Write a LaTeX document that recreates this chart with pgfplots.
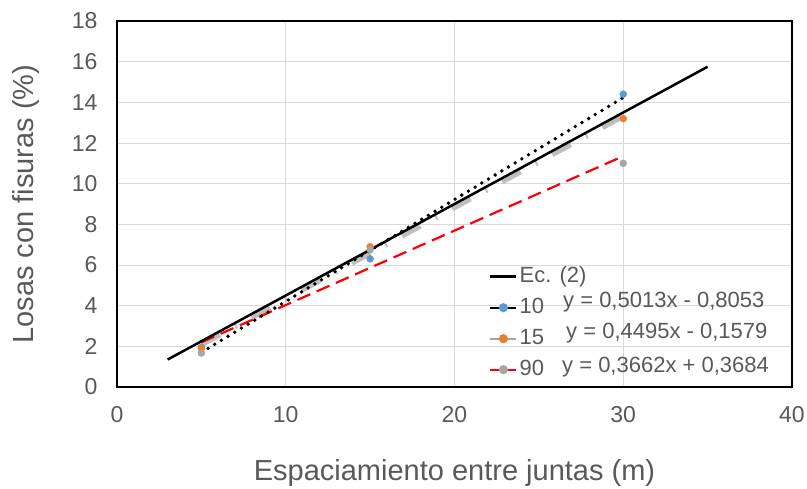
\documentclass[border=0pt]{standalone}
\usepackage{fontspec}
\setmainfont{Liberation Sans}
\usepackage{pgfplots}
\pgfplotsset{compat=1.18}
\definecolor{txt}{HTML}{595959}
\definecolor{gridc}{HTML}{D9D9D9}
\definecolor{cten}{HTML}{5B9BD5}
\definecolor{cfif}{HTML}{ED7D31}
\definecolor{cnin}{HTML}{A5A5A5}
\definecolor{ctrg}{HTML}{BFBFBF}
\begin{document}
\begin{tikzpicture}
\begin{axis}[name=ax,
  scale only axis, width=675pt, height=366pt,
  xmin=0, xmax=40, ymin=0, ymax=18,
  xtick={0,10,20,30,40}, ytick={0,2,4,6,8,10,12,14,16,18},
  grid=major, major grid style={color=gridc, line width=0.9pt},
  axis line style={black, line width=1.2pt},
  major tick length=0pt,
  /pgf/number format/assume math mode=true,
  tick label style={font=\fontsize{23}{27}\selectfont, text=txt},
  xticklabel style={yshift=-16pt},
  yticklabel style={xshift=-16pt},
  xlabel={Espaciamiento entre juntas (m)},
  ylabel={Losas con fisuras (\%)},
  label style={font=\fontsize{29}{34}\selectfont, text=txt},
  xlabel style={at={(axis description cs:0.5,-0.2568)}, anchor=base},
  ylabel style={at={(axis description cs:-0.1244,0.5)}, anchor=base},
  legend cell align=left,
  legend image code/.code={\draw[mark repeat=2,mark phase=2,#1] plot coordinates {(0pt,0pt) (13pt,0pt) (26pt,0pt)};},
  legend style={at={(0.5511,0.3306)}, anchor=north west, draw=none, fill=none,
    inner sep=0pt, row sep=10pt, column sep=2pt,
    font=\fontsize{22}{26}\selectfont, text=txt,
    nodes={inner sep=0pt, text height=16pt, text depth=5pt}},
]
% data points
\addplot[forget plot, only marks, mark=*, mark size=3.5pt, mark options={fill=cten, draw=cten}]
  coordinates {(5,1.95) (15,6.3) (30,14.4)};
\addplot[forget plot, only marks, mark=*, mark size=3.5pt, mark options={fill=cfif, draw=cfif}]
  coordinates {(5,1.9) (15,6.9) (30,13.2)};
\addplot[forget plot, only marks, mark=*, mark size=3.5pt, mark options={fill=cnin, draw=cnin}]
  coordinates {(5,1.67) (15,6.75) (30,11.0)};
% trendlines
\addplot[forget plot, ctrg, line width=5.5pt, dash pattern=on 21pt off 17pt on 2pt off 17pt]
  coordinates {(5,2.0896) (30,13.3271)};
\addplot[forget plot, red, line width=2.2pt, dash pattern=on 14pt off 7pt]
  coordinates {(5,2.1994) (30,11.3544)};
\addplot[forget plot, black, line width=3.8pt, line cap=round, dash pattern=on 0pt off 7.8pt]
  coordinates {(5,1.7012) (30,14.2337)};
% Ec. (2)
\addplot[forget plot, black, line width=2.5pt]
  coordinates {(3,1.35) (35,15.75)};
% legend
\addlegendimage{black, line width=2.5pt}
\addlegendentry{Ec. (2)}
\addlegendimage{black, line width=2pt, mark=*, mark size=3.5pt, mark options={fill=cten, draw=cten}}
\addlegendentry{10}
\addlegendimage{cnin, line width=2pt, mark=*, mark size=3.5pt, mark options={fill=cfif, draw=cfif}}
\addlegendentry{15}
\addlegendimage{red, line width=2pt, mark=*, mark size=3.5pt, mark options={fill=cnin, draw=cnin}}
\addlegendentry{90}
% trendline equations
\node[anchor=base west, inner sep=0pt, font=\fontsize{22}{26}\selectfont, text=txt] at (axis cs:26.43,3.886) {y = 0,5013x - 0,8053};
\node[anchor=base west, inner sep=0pt, font=\fontsize{22}{26}\selectfont, text=txt] at (axis cs:26.61,2.361) {y = 0,4495x - 0,1579};
\node[anchor=base west, inner sep=0pt, font=\fontsize{22}{26}\selectfont, text=txt] at (axis cs:26.37,0.689) {y = 0,3662x + 0,3684};
\end{axis}
\pgfresetboundingbox
\path[use as bounding box] ([shift={(-117pt,-101pt)}]ax.south west) rectangle ([shift={(15pt,21pt)}]ax.north east);
\end{tikzpicture}
\end{document}
